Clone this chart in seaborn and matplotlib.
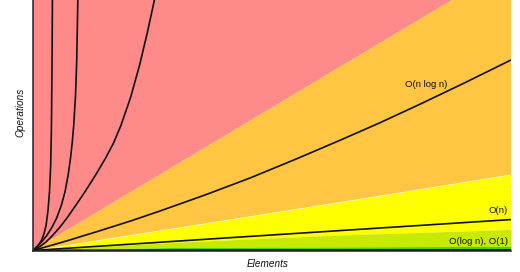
import matplotlib
matplotlib.use("Agg")
import matplotlib.pyplot as plt
import seaborn as sns

# ---- data (arbitrary units 0..100) ----
band_x = [0, 28.7, 64.2, 100]
red_lower = [0, 32.7, 73.2, 114]
orange_lower = [0, 8.6, 19.3, 30.3]
ygreen_lower = [0, 3.2, 6.2, 8.4]
green_lower = [0, 1.2, 1.4, 1.7]

fact_x = [0, 0.75, 1.3, 1.8, 2.35, 2.75, 3.15, 3.45, 3.7, 3.85, 3.98,
          4.06, 4.08]
fact_y = [0, 1.4, 2.59, 4.19, 6.99, 10.18, 16.17, 23.47, 34.13, 48.1, 74.05,
          100, 104]

exp_x = [0, 1.0, 1.95, 2.95, 4.0, 4.95, 5.95, 6.7, 7.35, 7.85, 8.22, 8.52,
         8.9, 9.15, 9.38, 9.41]
exp_y = [0, 1.8, 3.79, 6.19, 9.38, 12.97, 18.16, 23.47, 30.14, 36.93, 43.31,
         50.1, 62.08, 76.05, 100, 104]

sq_x = [0, 1.46, 2.72, 4.18, 5.65, 7.11, 8.99, 10.88, 13.1, 15.2, 16.85,
        18.35, 20.45, 22.3, 23.9, 25.4, 25.85]
sq_y = [0, 1.6, 3.39, 6.19, 9.38, 12.97, 18.16, 23.47, 30.14, 36.93, 42.92,
        49.7, 61.28, 74.05, 86.83, 100, 104]

nlogn_x = [0, 6.28, 13.33, 20.29, 26.57, 35.98, 45.4, 54.81, 64.23, 72.59,
           80.96, 90.38, 100]
nlogn_y = [0, 3.39, 7.5, 11.7, 15.77, 22.16, 28.94, 36.33, 44.0, 51.0,
           58.4, 67.0, 76.05]

lin_x = [0, 50, 100]
lin_y = [0, 6.2, 12.35]

log_x = [0, 2, 10, 40, 100]
log_y = [0, 0.15, 0.25, 0.3, 0.35]

const_x = [0, 100]
const_y = [0.05, 0.05]

labels = ["O(n log n)", "O(n)", "O(log n), O(1)"]

# ---- plot ----
sns.set_theme(style="white")
plt.rcParams["font.family"] = ["Liberation Sans", "DejaVu Sans"]

fig = plt.figure(figsize=(5.2, 2.72), dpi=100)
ax = fig.add_axes([33 / 520, 21.5 / 272, 478 / 520, 250.5 / 272])

top = [130] * len(band_x)
ax.fill_between(band_x, red_lower, top, color="#FF8A8A", lw=0)
ax.fill_between(band_x, orange_lower, red_lower, color="#FFC543", lw=0)
ax.fill_between(band_x, ygreen_lower, orange_lower, color="#FFFF00", lw=0)
ax.fill_between(band_x, green_lower, ygreen_lower, color="#C8EA00", lw=0)
ax.fill_between(band_x, 0, green_lower, color="#53D000", lw=0)

lw = 1.2
for xs, ys, w in [(fact_x, fact_y, lw), (exp_x, exp_y, lw), (sq_x, sq_y, lw),
                  (nlogn_x, nlogn_y, lw), (lin_x, lin_y, lw),
                  (log_x, log_y, 0.7), (const_x, const_y, 0.7)]:
    sns.lineplot(x=xs, y=ys, ax=ax, color="#111111", lw=w, sort=False,
                 estimator=None)

ax.set_xlim(0, 100)
ax.set_ylim(0, 100)
ax.set_xticks([])
ax.set_yticks([])

for s in ["top", "right"]:
    ax.spines[s].set_visible(False)
for s in ["left", "bottom"]:
    ax.spines[s].set_color("#222222")
    ax.spines[s].set_linewidth(1.1)

fs = 6.8
ax.text(0.822, 0.664, labels[0], transform=ax.transAxes, ha="center",
        va="center", fontsize=fs, color="#111111")
ax.text(0.993, 0.16, labels[1], transform=ax.transAxes, ha="right",
        va="center", fontsize=fs, color="#111111")
ax.text(0.993, 0.035, labels[2], transform=ax.transAxes, ha="right",
        va="center", fontsize=fs, color="#111111")

ax.set_xlabel("Elements", fontsize=7.2, style="italic", color="#111111")
ax.set_ylabel("Operations", fontsize=7.2, style="italic", color="#111111")
ax.xaxis.set_label_coords(0.49, -0.054)
ax.xaxis.label.set_va("center")
ax.yaxis.set_label_coords(-0.027, 0.553)
ax.yaxis.label.set_va("center")

fig.savefig("out.png", dpi=100)
